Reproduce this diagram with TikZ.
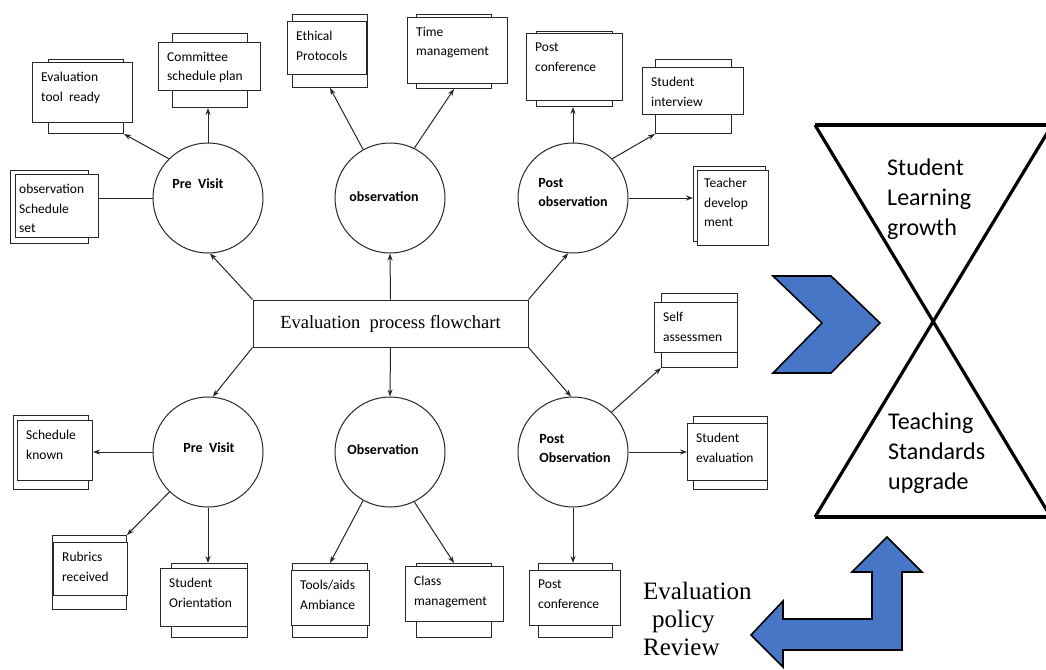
\documentclass[tikz,border=0pt]{standalone}
\usepackage{fontspec}
\newfontfamily\carlito{Carlito}
\newfontfamily\tms{Liberation Serif}
\usetikzlibrary{arrows.meta}
\definecolor{blu}{RGB}{72,118,198}
\tikzset{
  ln/.style={draw=black!85, line width=1pt},
  backbox/.style={ln, rectangle, inner sep=0pt, anchor=north west, fill=white},
  mainbox/.style={ln, rectangle, inner sep=0pt, anchor=north west, fill=white},
  btext/.style={font=\carlito\fontsize{13.5}{19.5}\selectfont, align=left, inner sep=0pt, anchor=north west},
  circ/.style={ln, circle, minimum size=110pt, inner sep=0pt},
  ctext/.style={font=\carlito\bfseries\fontsize{14}{19}\selectfont, align=left, inner sep=0pt},
  arr/.style={ln, -{Stealth[length=7pt,width=5pt]}},
  hg/.style={draw=black, line width=3.2pt},
  htext/.style={font=\carlito\fontsize{24}{30}\selectfont, align=left, inner sep=0pt, anchor=north west},
  bluearrow/.style={draw=black, line width=1.6pt, fill=blu, line join=miter},
}
% name, main x1 y1 x2 y2, back x1 y1 x2 y2
\newcommand\dbox[9]{%
  \node[backbox, minimum width={(#8-#6)*1pt}, minimum height={(#9-#7)*1pt}] (#1b) at (#6,#7) {};
  \node[mainbox, minimum width={(#4-#2)*1pt}, minimum height={(#5-#3)*1pt}] (#1) at (#2,#3) {};
}
\newcommand\btxt[2]{\node[btext] (#1t) at ([shift={(9,10)}]#1.north west) {#2};}
\begin{document}
\begin{tikzpicture}[x=1pt,y=-1pt]
\useasboundingbox (0,0) rectangle (1046,669);

% central box
\node[ln, rectangle, minimum width=275pt, minimum height=47pt, inner sep=0pt,
      font=\tms\fontsize{18.5}{22}\selectfont] (central) at (390.5,323.5) {Evaluation\ \ process flowchart};

% circles
\node[circ] (pv1) at (208,198) {};
\node[circ] (ob1) at (390,198) {};
\node[circ] (po1) at (573,198) {};
\node[circ] (pv2) at (208,452) {};
\node[circ] (ob2) at (390,452) {};
\node[circ] (po2) at (573,452) {};
\node[ctext] (pv1t) at (198,184) {Pre\ \ Visit};
\node[ctext] (ob1t) at (384,197) {observation};
\node[ctext] (po1t) at (573,193) {Post\\observation};
\node[ctext] (pv2t) at (209,448) {Pre\ \ Visit};
\node[ctext] (ob2t) at (383,450) {Observation};
\node[ctext] (po2t) at (575,449) {Post\\Observation};

% boxes
\dbox{tool}{32}{62}{132}{122}{48}{59}{123}{133}
\btxt{tool}{Evaluation\\tool\ \ ready}
\dbox{comm}{158}{42}{260}{90}{172}{33}{247}{107}
\btxt{comm}{Committee\\schedule plan}
\dbox{obss}{15}{174}{98}{237}{10}{170}{88}{243}
\node[btext] (obsst) at ([shift={(4,10)}]obss.north west) {observation\\Schedule\\set};
\dbox{eth}{287}{21}{366}{74}{292}{14}{367}{87}
\btxt{eth}{Ethical\\Protocols}
\dbox{time}{407}{17}{507}{83}{416}{14}{491}{88}
\btxt{time}{Time\\management}
\dbox{pc1}{526}{33}{622}{100}{536}{31}{612}{106}
\btxt{pc1}{Post\\conference}
\dbox{si}{642}{67}{743}{114}{655}{59}{731}{133}
\btxt{si}{Student\\interview}
\dbox{td}{697}{170}{768}{245}{693}{166}{765}{241}
\node[btext] (tdt) at ([shift={(7,8)}]td.north west) {Teacher\\develop\\ment};
\dbox{sk}{17}{420}{92}{480}{13}{415}{88}{489}
\btxt{sk}{Schedule\\known}
\dbox{rub}{53}{542}{127}{595}{52}{535}{126}{609}
\btxt{rub}{Rubrics\\received}
\dbox{so}{160}{568}{247}{626}{171}{563}{247}{637}
\btxt{so}{Student\\Orientation}
\dbox{tools}{291}{570}{369}{625}{292}{563}{367}{637}
\btxt{tools}{Tools/aids\\Ambiance}
\dbox{cm}{405}{566}{503}{621}{416}{563}{491}{637}
\btxt{cm}{Class\\management}
\dbox{sa}{654}{302}{737}{352}{661}{293}{737}{367}
\btxt{sa}{Self\\assessmen}
\dbox{se}{687}{423}{767}{480}{693}{416}{767}{489}
\btxt{se}{Student\\evaluation}
\dbox{pc2}{529}{570}{620}{625}{538}{563}{612}{637}
\btxt{pc2}{Post\\conference}

% central connectors
\draw[arr] (central.north west) -- (pv1.272);
\draw[arr] (central.north) -- (ob1.south);
\draw[arr] (central.north east) -- (po1.265);
\draw[arr] (central.south west) -- (pv2.85);
\draw[arr] (central.south) -- (ob2.north);
\draw[arr] (central.south east) -- (po2.92);

% circle connectors
\draw[arr] (pv1.135) -- (toolb.south east);
\draw[arr] (pv1.north) -- (pv1.north |- commb.south);
\draw[ln] (pv1.west) -- (pv1.west -| obss.east);
\draw[arr] (ob1.119) -- (ethb.south);
\draw[arr] (ob1.64) -- (timeb.south);
\draw[arr] (po1.north) -- (po1.north |- pc1b.south);
\draw[arr] (po1.45) -- (sib.south west);
\draw[arr] (po1.east) -- (po1.east -| tdb.west);
\draw[arr] (pv2.west) -- (pv2.west -| sk.east);
\draw[arr] (pv2.226) -- (rubb.north east);
\draw[arr] (pv2.south) -- (pv2.south |- sob.north);
\draw[arr] (ob2.241) -- (toolsb.north);
\draw[arr] (ob2.296) -- (cmb.north);
\draw[arr] (po2.46) -- (sab.south west);
\draw[arr] (po2.east) -- (po2.east -| se.west);
\draw[arr] (po2.south) -- (po2.south |- pc2b.north);

% hourglass
\draw[hg] (815,125) -- (1052,125);
\draw[hg] (815,517) -- (1052,517);
\draw[hg] (815,125) -- (1052,519);
\draw[hg] (1052,125) -- (815,517);
\node[htext] (slg) at (887,159) {Student\\Learning\\growth};
\node[htext] (tsu) at (888,413) {Teaching\\Standards\\upgrade};

% chevron
\draw[bluearrow] (773,276) -- (831,276) -- (880,323) -- (831,373) -- (773,373) -- (822,323) -- cycle;

% bent arrow
\draw[bluearrow] (887,537) -- (922,572) -- (902,572) -- (902,650) -- (783,650) -- (783,667)
  -- (751,635) -- (783,601) -- (783,619) -- (872,619) -- (872,572) -- (852,572) -- cycle;

\node[font=\tms\fontsize{25}{28}\selectfont, align=left, inner sep=0pt, anchor=north west] (epr)
  at (643,582) {Evaluation\\\hspace{9pt}policy\\Review};
\end{tikzpicture}
\end{document}
